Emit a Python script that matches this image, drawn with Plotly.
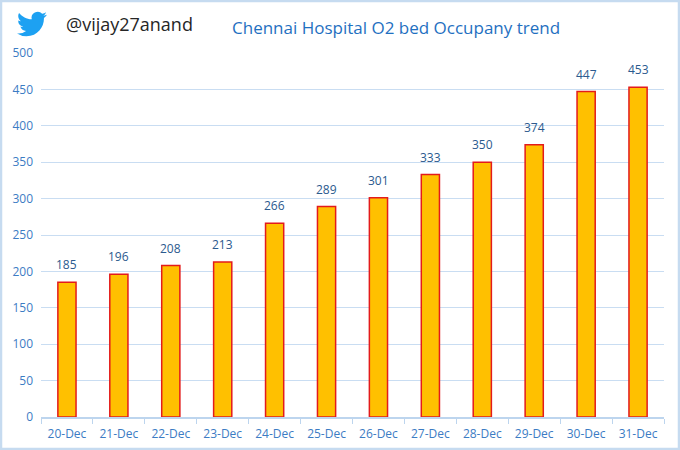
import base64
import plotly.graph_objects as go

dates = ["20-Dec", "21-Dec", "22-Dec", "23-Dec", "24-Dec", "25-Dec",
         "26-Dec", "27-Dec", "28-Dec", "29-Dec", "30-Dec", "31-Dec"]
beds = [185, 196, 208, 213, 266, 289, 301, 333, 350, 374, 447, 453]
y_ticks = [0, 50, 100, 150, 200, 250, 300, 350, 400, 450, 500]

title_text = "Chennai Hospital O2 bed Occupany trend"
handle_text = "@vijay27anand"

W, H = 680, 450
ML, MR, MT, MB = 41, 16, 53, 33
PW, PH = W - ML - MR, H - MT - MB

def px_to_paper(x, y):
    return (x - ML) / PW, (H - MB - y) / PH

font = "Open Sans, Noto Sans, sans-serif"

fig = go.Figure()
fig.add_trace(go.Bar(
    x=dates, y=beds, width=0.35,
    marker=dict(color="#FFC000", line=dict(color="#E31B1B", width=1.5)),
    hoverinfo="x+y",
))

for d, v in zip(dates, beds):
    fig.add_annotation(x=d, y=v, text=str(v), showarrow=False,
                       yanchor="bottom", yshift=7,
                       font=dict(family=font, size=12, color="#2B5A8E"))

# twitter bird logo
bird = ('<svg xmlns="http://www.w3.org/2000/svg" viewBox="0 0 24 24"><path fill="#1DA1F2" '
        'd="M23.953 4.57a10 10 0 01-2.825.775 4.958 4.958 0 002.163-2.723c-.951.555-2.005.959-3.127 '
        '1.184a4.92 4.92 0 00-8.384 4.482C7.69 8.095 4.067 6.13 1.64 3.162a4.822 4.822 0 00-.666 '
        '2.475c0 1.71.87 3.213 2.188 4.096a4.904 4.904 0 01-2.228-.616v.06a4.923 4.923 0 003.946 '
        '4.827 4.996 4.996 0 01-2.212.085 4.936 4.936 0 004.604 3.417 9.867 9.867 0 01-6.102 '
        '2.105c-.39 0-.779-.023-1.17-.067a13.995 13.995 0 007.557 2.209c9.053 0 13.998-7.496 '
        '13.998-13.985 0-.21 0-.42-.015-.63A9.935 9.935 0 0024 4.59z"/></svg>')
src = "data:image/svg+xml;base64," + base64.b64encode(bird.encode()).decode()
bx, by = px_to_paper(14, 9)
bx2, by2 = px_to_paper(50, 39)
fig.add_layout_image(source=src, xref="paper", yref="paper", x=bx, y=by,
                     sizex=bx2 - bx, sizey=by - by2, xanchor="left", yanchor="top",
                     sizing="contain", layer="above")

hx, hy = px_to_paper(64, 24)
fig.add_annotation(xref="paper", yref="paper", x=hx, y=hy, text=handle_text,
                   showarrow=False, xanchor="left", yanchor="middle",
                   font=dict(family=font, size=18, color="#262626"))
tx, ty = px_to_paper(396, 27)
fig.add_annotation(xref="paper", yref="paper", x=tx, y=ty, text=title_text,
                   showarrow=False, xanchor="center", yanchor="middle",
                   font=dict(family=font, size=17, color="#1F70C1"))

# outer border
x0, y0 = px_to_paper(1, H - 1)
x1, y1 = px_to_paper(W - 1, 1)
fig.add_shape(type="rect", xref="paper", yref="paper", x0=x0, y0=y0, x1=x1, y1=y1,
              line=dict(color="#C6DBF0", width=2.5), layer="above")

fig.update_layout(
    width=W, height=H,
    margin=dict(l=ML, r=MR, t=MT, b=MB),
    paper_bgcolor="white", plot_bgcolor="white",
    showlegend=False,
    bargap=0.65,
    xaxis=dict(type="category", showgrid=False, showline=True, linecolor="#BDD5EE",
               linewidth=1.5, ticks="outside", tickson="boundaries", ticklen=5,
               tickcolor="#BDD5EE", automargin=False, ticklabelstandoff=5,
               tickfont=dict(family=font, size=12, color="#3C7CC4")),
    yaxis=dict(range=[0, 500], tickvals=y_ticks, showgrid=True, gridcolor="#C9DDF2",
               gridwidth=1.2, zeroline=False, showline=False, ticks="", automargin=False,
               ticklabelstandoff=7,
               tickfont=dict(family=font, size=12, color="#3C7CC4")),
)

fig.write_html("out.html", config={"displayModeBar": False},
               post_script="document.body.style.margin='0';document.body.style.overflow='hidden';")
